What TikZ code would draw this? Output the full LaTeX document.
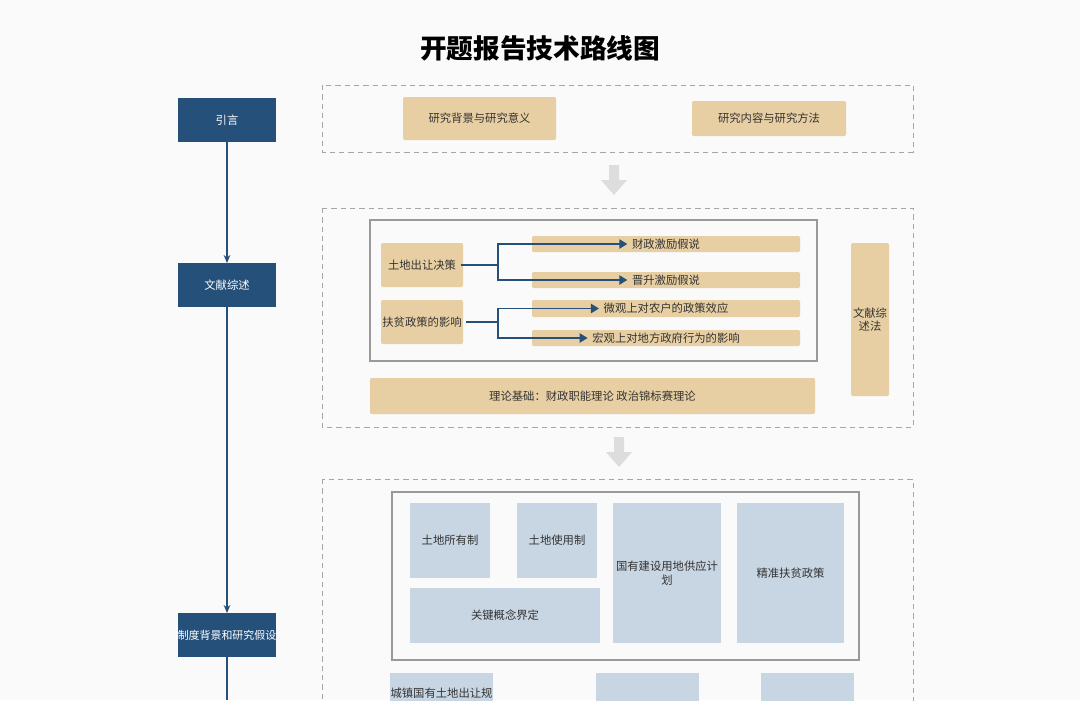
\documentclass[tikz,border=0pt]{standalone}
\usepackage{fontspec}
\setmainfont{Noto Sans CJK SC}
\usetikzlibrary{arrows.meta}
\definecolor{navy}{HTML}{24507A}
\definecolor{tan}{HTML}{E8CFA3}
\definecolor{lb}{HTML}{C8D5E2}
\definecolor{ga}{HTML}{DDDDDD}
\definecolor{txt}{HTML}{333333}
\tikzset{
 px/.style={x=0.75pt,y=-0.75pt},
 lbox/.style={fill=navy,draw=none,text=white,font=\fontsize{8.5}{10}\selectfont},
 tbox/.style={fill=tan,draw=none,rounded corners=1pt,text=txt,font=\fontsize{8.5}{10}\selectfont,align=center},
 bbox/.style={fill=lb,draw=none,text=txt,font=\fontsize{8.5}{11}\selectfont,align=center},
 panel/.style={draw=gray!70,dashed,dash pattern=on 4pt off 3pt},
 frame/.style={draw=gray!80,line width=0.8pt},
 flow/.style={draw=navy,line width=0.8pt,-{Stealth[length=6pt,width=5pt]}},
 br/.style={draw=navy,line width=1.1pt},
 brA/.style={draw=navy,line width=1.1pt,-{Triangle[length=6pt,width=7pt]}},
 big/.style={fill=ga,draw=none}
}
\newcommand{\rbox}[5]{\node[#1,minimum width=#4*0.75pt-#2*0.75pt,minimum height=0pt,inner sep=0pt,anchor=center] (#5) at ({(#2+#4)/2},0) {};}
\begin{document}
\begin{tikzpicture}[px]
\clip (0,0) rectangle (1080,700);
\fill[white!98!black] (0,0) rectangle (1080,700);
\node[font=\fontsize{20}{24}\selectfont\bfseries] (title) at (540,48) {开题报告技术路线图};
% left column
\path[lbox] (178,98) rectangle (276,142) node[midway] (intro) {引言};
\path[lbox] (178,263) rectangle (276,307) node[midway] (lit) {文献综述};
\path[lbox] (178,613) rectangle (276,657) node[midway,font=\fontsize{8.2}{10}\selectfont] (inst) {制度背景和研究假设};
\coordinate (i1) at (227,142); \coordinate (l0) at (227,263);
\coordinate (l1) at (227,307); \coordinate (n0) at (227,613);
\coordinate (n1) at (227,657); \coordinate (n2) at (227,700);
\draw[flow] (i1) -- (l0);
\draw[flow] (l1) -- (n0);
\draw[draw=navy,line width=0.8pt] (n1) -- (n2);
% panels
\draw[panel] (322,85) rectangle (913,152);
\draw[panel] (322,208) rectangle (913,427);
\draw[panel] (322,479) rectangle (913,720);
% panel 1
\path[tbox] (403,97) rectangle (556,140) node[midway] (bg) {研究背景与研究意义};
\path[tbox] (692,101) rectangle (846,136) node[midway] (ct) {研究内容与研究方法};
% grey arrows
\fill[big] (609,165) -- (619,165) -- (619,180) -- (627,180) -- (614,195) -- (601,180) -- (609,180) -- cycle;
\fill[big] (614,437) -- (624,437) -- (624,452) -- (632,452) -- (619,467) -- (606,452) -- (614,452) -- cycle;
% panel 2
\draw[frame] (370,220) rectangle (817,361);
\path[tbox] (381,243) rectangle (463,287) node[midway] (land) {土地出让决策};
\path[tbox] (381,300) rectangle (463,344) node[midway] (pov) {扶贫政策的影响};
\path[tbox] (532,236) rectangle (800,252) node[midway] (h1) {财政激励假说};
\path[tbox] (532,272) rectangle (800,288) node[midway] (h2) {晋升激励假说};
\path[tbox] (532,300) rectangle (800,317) node[midway] (h3) {微观上对农户的政策效应};
\path[tbox] (532,330) rectangle (800,346) node[midway] (h4) {宏观上对地方政府行为的影响};
\coordinate (j1) at (498,265); \coordinate (j2) at (498,322);
\draw[br] (land.east|-j1) -- (j1);
\draw[brA] (j1) |- (h1.west);
\draw[brA] (j1) |- (h2.west);
\draw[br] (pov.east|-j2) -- (j2);
\draw[brA] (j2) |- (h3.west);
\draw[brA] (j2) |- (h4.west);
\path[tbox] (851,243) rectangle (889,396) node[midway] (m) {文献综\\述法};
\path[tbox] (370,378) rectangle (815,414) node[midway] (th) {理论基础：财政职能理论 政治锦标赛理论};
% panel 3
\draw[frame] (392,492) rectangle (859,660);
\path[bbox] (410,503) rectangle (490,578) node[midway] (b1) {土地所有制};
\path[bbox] (517,503) rectangle (597,578) node[midway] (b2) {土地使用制};
\path[bbox] (613,503) rectangle (721,643) node[midway] (b3) {国有建设用地供应计\\划};
\path[bbox] (737,503) rectangle (844,643) node[midway] (b4) {精准扶贫政策};
\path[bbox] (410,588) rectangle (600,643) node[midway] (b5) {关键概念界定};
\path[bbox] (390,673) rectangle (493,730);
\node[text=txt,font=\fontsize{8.5}{10}\selectfont] (b6) at (441.5,693) {城镇国有土地出让规};
\path[bbox] (596,673) rectangle (699,730);
\path[bbox] (761,673) rectangle (854,730);
\end{tikzpicture}
\end{document}
